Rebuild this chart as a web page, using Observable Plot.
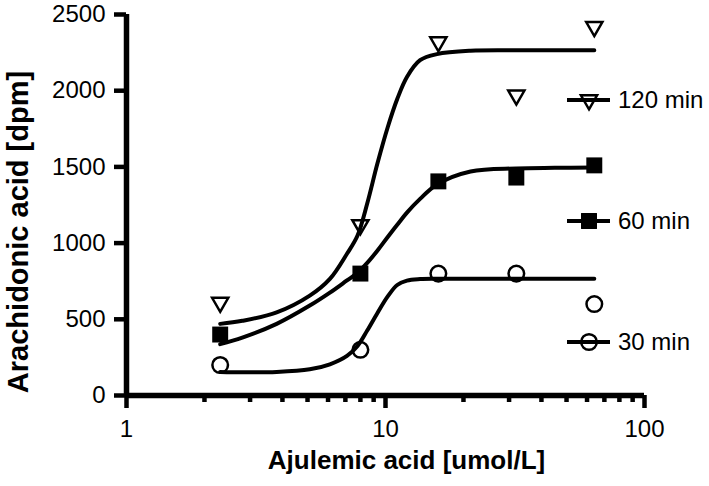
<!DOCTYPE html>
<html>
<head>
<meta charset="utf-8">
<script src="https://cdn.jsdelivr.net/npm/d3@7"></script>
<script src="https://cdn.jsdelivr.net/npm/@observablehq/plot@0.6"></script>
<style>
  html, body { margin: 0; padding: 0; background: #fff; }
  #chart { width: 709px; height: 486px; }
</style>
</head>
<body>
<div id="chart"></div>
<script>
// ---- data ----
const conc = [2.3, 8, 16, 32, 64];                 // umol/L
const dpm120 = [610, 1120, 2320, 1970, 2420];
const dpm60  = [400, 800, 1405, 1430, 1510];
const dpm30  = [200, 300, 800, 800, 600];

// fitted curves
const curveX = [2.3, 2.8, 3.8, 5.1, 6.1, 7.1, 7.8, 8.5, 9.3, 10.2, 11.1, 12.1, 13.6, 15.8, 21.3, 32, 45, 64];
const fit120 = [470, 490, 545, 655, 765, 930, 1050, 1260, 1520, 1760, 1945, 2090, 2200, 2240, 2262, 2265, 2265, 2265];
const fit60  = [337, 380, 470, 590, 675, 755, 805, 870, 950, 1040, 1120, 1200, 1290, 1385, 1470, 1490, 1494, 1496];
const fit30  = [155, 153, 155, 172, 205, 260, 325, 426, 540, 650, 725, 754, 764, 766, 766, 766, 766, 766];

const seriesNames = ["120 min", "60 min", "30 min"];
const xTitle = "Ajulemic acid [umol/L]";
const yTitle = "Arachidonic acid [dpm]";
const xMajorTicks = [1, 10, 100];
const xMinorTicks = [2, 3, 4, 5, 6, 7, 8, 9, 20, 30, 40, 50, 60, 70, 80, 90];
const yTicks = [0, 500, 1000, 1500, 2000, 2500];

// ---- build tables ----
const pts = (ys) => conc.map((x, i) => ({x, y: ys[i]}));
const crv = (ys) => curveX.map((x, i) => ({x, y: ys[i]}));

const triangleDown = {
  draw(context, size) {
    const y = -Math.sqrt(size / (Math.sqrt(3) * 3));
    context.moveTo(0, -y * 2);
    context.lineTo(-Math.sqrt(3) * y, y);
    context.lineTo(Math.sqrt(3) * y, y);
    context.closePath();
  }
};

const symbolStyles = [
  {symbol: triangleDown, r: 6, fill: "none", stroke: "black", strokeWidth: 2.5},
  {symbol: "square", r: 9, fill: "black", stroke: "none", strokeWidth: 0},
  {symbol: "circle", r: 7.8, fill: "none", stroke: "black", strokeWidth: 2.5}
];
const pointSets = [dpm120, dpm60, dpm30];
const curveSets = [fit120, fit60, fit30];

const font = "'Liberation Sans', Arial, Helvetica, sans-serif";

const chart = Plot.plot({
  width: 709,
  height: 486,
  marginLeft: 126,
  marginRight: 65,
  marginTop: 14,
  marginBottom: 91,
  style: {fontFamily: font, fontSize: "24px", color: "black", background: "white", overflow: "visible"},
  x: {type: "log", domain: [1, 100]},
  y: {domain: [0, 2500]},
  marks: [
    Plot.axisX({ticks: xMinorTicks, tickSize: 7, strokeWidth: 4.5, tickFormat: () => "", label: null}),
    Plot.axisX({ticks: xMajorTicks, tickSize: 13, strokeWidth: 4.5, tickFormat: d => String(d), tickPadding: 11, fontSize: 24, label: null}),
    Plot.axisY({ticks: yTicks, tickSize: 12, strokeWidth: 4.5, tickFormat: d => String(d), tickPadding: 9, fontSize: 24, label: null}),
    Plot.ruleX([1], {strokeWidth: 5.5, stroke: "black"}),
    Plot.ruleY([0], {strokeWidth: 5.5, stroke: "black"}),
    ...curveSets.map(ys => Plot.line(crv(ys), {x: "x", y: "y", curve: "catmull-rom", stroke: "black", strokeWidth: 4})),
    ...pointSets.map((ys, i) => Plot.dot(pts(ys), {x: "x", y: "y", ...symbolStyles[i]})),
    Plot.text([xTitle], {frameAnchor: "bottom", dx: 21, dy: 65, fontSize: 26, fontWeight: "bold", lineAnchor: "middle"})
  ]
});

document.getElementById("chart").appendChild(chart);

const svg = d3.select(chart);

// ---- y-axis title (layout in pixels) ----
svg.append("text")
  .attr("transform", "translate(18,232) rotate(-90)")
  .attr("text-anchor", "middle")
  .attr("dy", "0.35em")
  .attr("font-family", font)
  .attr("font-size", 29)
  .attr("font-weight", "bold")
  .attr("fill", "black")
  .text(yTitle);

// ---- legend (layout in pixels) ----
const legend = svg.append("g").attr("font-family", font).attr("font-size", 24).attr("text-anchor", "start");
const legendTop = 100, legendStep = 121;
seriesNames.forEach((name, i) => {
  const g = legend.append("g").attr("transform", `translate(0,${legendTop + i * legendStep})`);
  g.append("line").attr("x1", 567).attr("x2", 610).attr("y1", 0).attr("y2", 0)
    .attr("stroke", "black").attr("stroke-width", 4);
  const s = symbolStyles[i];
  const sym = typeof s.symbol === "string" ? (s.symbol === "square" ? d3.symbolSquare : d3.symbolCircle) : s.symbol;
  g.append("path").attr("d", d3.symbol(sym, Math.PI * s.r * s.r)())
    .attr("transform", "translate(589,0)")
    .attr("fill", s.fill).attr("stroke", s.stroke).attr("stroke-width", s.strokeWidth);
  g.append("text").attr("x", 618).attr("y", 0).attr("dy", "0.35em").attr("text-anchor", "start")
    .attr("fill", "black").text(name);
});
</script>
</body>
</html>
